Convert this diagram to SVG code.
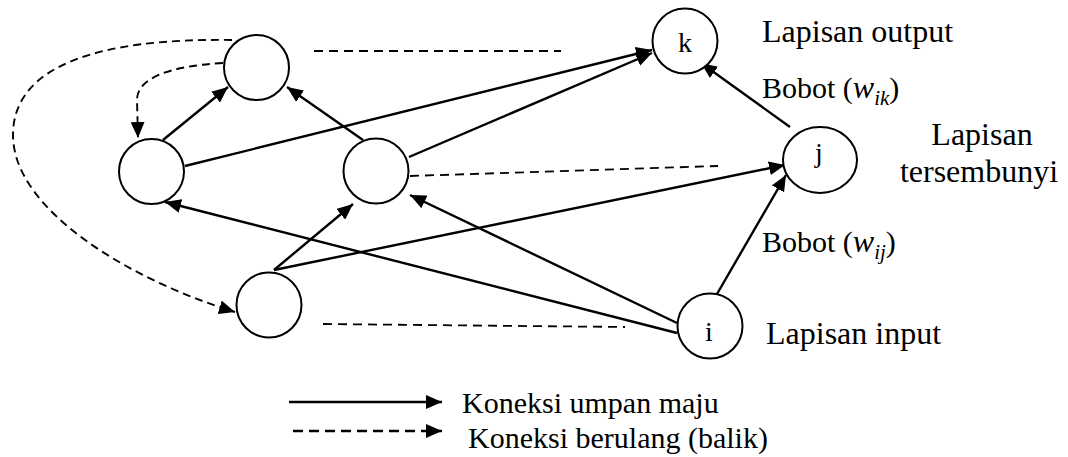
<svg xmlns="http://www.w3.org/2000/svg" width="1068" height="457" viewBox="0 0 1068 457">
  <style>
    .node { fill: #ffffff; stroke: #000000; stroke-width: 2; }
    .ff { fill: none; stroke: #000000; stroke-width: 2.4; marker-end: url(#arrow); }
    .rec { fill: none; stroke: #000000; stroke-width: 1.9; stroke-dasharray: 8 5; marker-end: url(#arrow); }
    .legrec { stroke-width: 2.4; stroke-dasharray: 10 6; }
    .guide { fill: none; stroke: #000000; stroke-width: 1.8; stroke-dasharray: 9 6; }
    .lbl { font-size: 28px; text-anchor: middle; }
    .layer { font-size: 32px; }
    .math { font-style: italic; }
  </style>
  <defs>
    <marker id="arrow" markerUnits="userSpaceOnUse" markerWidth="17" markerHeight="14" refX="16" refY="7" orient="auto">
      <path d="M0,0 L16,7 L0,14 Z" fill="#000000"/>
    </marker>
  </defs>

  <!-- connectors -->
  <g id="connectors">
    <!-- feed-forward connections -->
    <line class="ff" x1="163" y1="140" x2="228" y2="87"/>
    <line class="ff" x1="363" y1="140" x2="287" y2="87"/>
    <line class="ff" x1="185" y1="166" x2="652" y2="50"/>
    <line class="ff" x1="409" y1="157" x2="652" y2="53"/>
    <line class="ff" x1="790" y1="127" x2="701" y2="63"/>
    <line class="ff" x1="274" y1="270" x2="353" y2="204"/>
    <line class="ff" x1="274" y1="270" x2="785" y2="165"/>
    <line class="ff" x1="677" y1="333" x2="165" y2="202"/>
    <line class="ff" x1="677" y1="323" x2="410" y2="195"/>
    <line class="ff" x1="717" y1="294" x2="786" y2="175"/>
    <!-- recurrent (feedback) connections -->
    <path class="rec" d="M232,40 C100,38 13,65 13,135 C13,210 130,280 235,312"/>
    <path class="rec" d="M223,63 C170,66 137,78 137,100 L138,138"/>
    <!-- layer guide lines -->
    <line class="guide" x1="314" y1="51" x2="561" y2="51"/>
    <line class="guide" x1="410" y1="176" x2="718" y2="166"/>
    <line class="guide" x1="323" y1="324" x2="625" y2="327"/>
  </g>

  <g font-family="Liberation Serif, DejaVu Serif, serif" font-size="30" fill="#000000">
    <!-- neurons -->
    <g id="node-a"><circle class="node" cx="256.5" cy="67.5" r="32.5"/></g>
    <g id="node-b"><circle class="node" cx="151.5" cy="171.5" r="32.5"/></g>
    <g id="node-c"><circle class="node" cx="376" cy="171" r="32.5"/></g>
    <g id="node-d"><circle class="node" cx="269" cy="305" r="32.5"/></g>
    <g id="node-k">
      <circle class="node" cx="685" cy="41" r="32.5"/>
      <text class="lbl" x="685" y="52">k</text>
    </g>
    <g id="node-j">
      <ellipse class="node" cx="820" cy="160" rx="37" ry="33"/>
      <text class="lbl" x="819" y="162">j</text>
    </g>
    <g id="node-i">
      <circle class="node" cx="710" cy="326" r="32.5"/>
      <text class="lbl" x="709" y="341">i</text>
    </g>

    <!-- layer and weight labels -->
    <g id="labels">
      <text class="layer" x="762" y="42">Lapisan output</text>
      <text x="762" y="98">Bobot (<tspan class="math" font-size="32">w</tspan><tspan class="math" font-size="21" dy="7">ik</tspan><tspan dy="-7">)</tspan></text>
      <text class="layer" x="982" y="145" text-anchor="middle">Lapisan</text>
      <text class="layer" x="979" y="182" text-anchor="middle">tersembunyi</text>
      <text x="762" y="252">Bobot (<tspan class="math" font-size="32">w</tspan><tspan class="math" font-size="21" dy="7">ij</tspan><tspan dy="-7">)</tspan></text>
      <text class="layer" x="766" y="344">Lapisan input</text>
    </g>

    <!-- legend -->
    <g id="legend">
      <line class="ff" x1="289" y1="402" x2="442" y2="402"/>
      <line class="rec legrec" x1="293" y1="431" x2="442" y2="431"/>
      <text x="462" y="413">Koneksi umpan maju</text>
      <text x="468" y="448">Koneksi berulang (balik)</text>
    </g>
  </g>
</svg>
